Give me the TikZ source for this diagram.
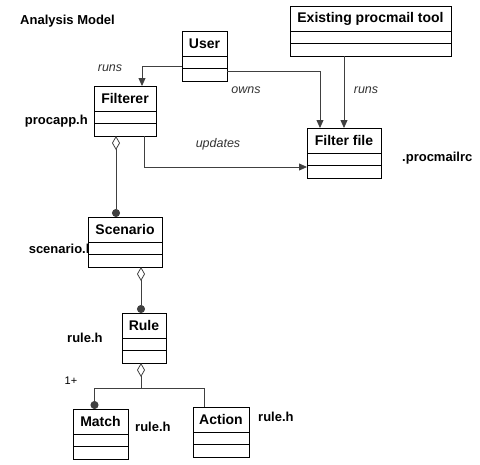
\documentclass[tikz,border=0pt]{standalone}
\usepackage{fontspec}
\setmainfont{Liberation Sans}
\usetikzlibrary{positioning,arrows.meta}

\tikzset{
  classname/.style={draw=black, fill=white, line width=1pt, inner sep=0pt, outer sep=0pt,
    minimum height=25pt, font=\fontsize{14}{14}\selectfont\bfseries},
  classpart/.style={draw=black, fill=white, line width=1pt, inner sep=0pt, outer sep=0pt,
    minimum height=12.5pt},
  filelabel/.style={font=\fontsize{13}{13}\selectfont\bfseries, inner sep=0pt},
  rolelabel/.style={font=\fontsize{12.5}{12.5}\selectfont\itshape, text=black!80, inner sep=0pt},
  link/.style={draw=black!75, line width=0.8pt},
  navig/.style={link, -{Triangle[length=8pt,width=7pt]}},
  whole/.style={link, {Diamond[open,length=14pt,width=8pt]}-},
  part/.style={link, -{Circle[length=8pt]}},
  aggr/.style={link, {Diamond[open,length=14pt,width=8pt]}-{Circle[length=8pt]}},
}

\begin{document}
\begin{tikzpicture}[x=1pt,y=-1pt]
      \useasboundingbox (0,0) rectangle (480,464);
      % header file names (scenario.h sits under its box)
      \node[filelabel, anchor=west] (title) at (20,21) {Analysis Model};
      \node[filelabel, anchor=east] (scenh) at (94,249) {scenario.h};
      % classes: name compartment, then two empty compartments
      \foreach \n/\x/\y/\w/\t in {user/182/31/45/User, filterer/94/86/62/Filterer,
          existing/290/6/161/Existing procmail tool, ffile/307/128/74/Filter file,
          scenario/88/217/74/Scenario, rule/122/313/44/Rule,
          match/73/409/55/Match, action/193/407/56/Action} {
        \node[classname, minimum width=\w pt, anchor=north west] (\n) at (\x,\y) {\t};
        \node[classpart, minimum width=\w pt, below=0pt of \n] (\n-a) {};
        \node[classpart, minimum width=\w pt, below=0pt of \n-a] (\n-o) {};
      }
      \node[filelabel, anchor=east] (procapph) at (88,121) {procapp.h};
      \node[filelabel, anchor=west] (procmailrc) at (402,158) {.procmailrc};
      \node[filelabel, anchor=west] (ruleh) at (67,338) {rule.h};
      \node[filelabel, anchor=west] (matchh) at (135,427) {rule.h};
      \node[filelabel, anchor=west] (actionh) at (258,417) {rule.h};
      % associations
      \draw[navig] ([yshift=-4pt]user-a.west) -| ([xshift=-14pt]filterer.north east);
      \draw[navig] ([yshift=-3pt]user-a.south east) -| ([xshift=13pt]ffile.north west);
      \draw[navig] (existing-o.south -| ffile.north) -- (ffile.north);
      \draw[navig] ([xshift=-12pt]filterer-o.south east) |- ([yshift=-1.5pt]ffile-a.south west);
      \node[rolelabel] (runsa) at (110,68) {runs};
      \node[rolelabel] (owns) at (246,90) {owns};
      \node[rolelabel] (runsb) at (366,90) {runs};
      \node[rolelabel] (updates) at (218,144) {updates};
      % aggregations
      \draw[aggr] ([xshift=-9pt]filterer-o.south) -- ([xshift=-9pt]scenario.north);
      \draw[aggr] ([xshift=16pt]scenario-o.south) -- ([xshift=-3pt]rule.north);
      \coordinate (fork) at ([xshift=-3pt,yshift=-25pt]rule-o.south);
      \draw[whole] ([xshift=-3pt]rule-o.south) -- (fork);
      \draw[part] (fork) -| ([xshift=-6pt]match.north);
      \draw[link] (fork) -| ([xshift=11pt]action.north west);
      \node[font=\fontsize{11}{11}\selectfont, inner sep=0pt] (many) at (71,381) {1+};
    \end{tikzpicture}
\end{document}
